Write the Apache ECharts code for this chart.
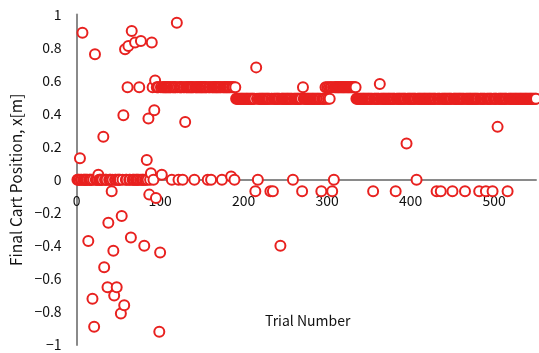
<!DOCTYPE html>
<html>
<head>
<meta charset="utf-8">
<script src="https://cdn.jsdelivr.net/npm/echarts@6/dist/echarts.min.js"></script>
<style>
  html, body { margin: 0; padding: 0; background: #ffffff; }
  #chart { width: 539px; height: 353px; }
</style>
</head>
<body>
<div id="chart"></div>
<script>
// Final cart position x[m] recorded at the end of each trial (trial numbers start at 1).
const positionsTrials001to100 = [
  0, 0, 0, 0.13, 0, 0, 0.89, 0, 0, 0,
  0, 0, 0, -0.37, 0, 0, 0, 0, -0.72, 0,
  -0.89, 0.76, 0, 0, 0, 0.03, 0, 0, 0, 0,
  0, 0.26, -0.53, 0, 0, 0, -0.65, -0.26, 0, 0,
  0, -0.07, 0, -0.43, -0.70, 0, 0, -0.65, 0, 0,
  0, 0, -0.81, -0.22, 0, 0.39, -0.76, 0.79, 0, 0,
  0.56, 0.81, 0, 0, -0.35, 0.90, 0, 0, 0, 0.83,
  0, 0, 0, 0, 0.56, 0, 0.84, 0, 0, 0,
  -0.40, 0, 0, 0.12, 0, 0.37, -0.09, 0, 0.04, 0.83,
  0.56, 0, 0.42, 0.60, -0.11, 0.56, 0.56, 0.56, -0.92, -0.44
];
const positionsTrials101to200 = [
  0.56, 0.03, 0.56, 0.56, 0.56, 0.56, 0.56, 0.56, 0.56, 0.56,
  0.56, 0.56, 0.56, 0, 0.56, 0.56, 0.56, 0.56, 0.56, 0.95,
  0.56, 0, 0.56, 0.56, 0.56, 0.56, 0, 0.56, 0.56, 0.35,
  0.56, 0.56, 0.56, 0.56, 0.56, 0.56, 0.56, 0.56, 0.56, 0.56,
  0, 0.56, 0.56, 0.56, 0.56, 0.56, 0.56, 0.56, 0.56, 0.56,
  0.56, 0.56, 0.56, 0.56, 0.56, 0.56, 0, 0.56, 0.56, 0.56,
  0, 0.56, 0.56, 0.56, 0.56, 0.56, 0.56, 0.56, 0.56, 0.56,
  0.56, 0.56, 0.56, 0, 0.56, 0.56, 0.56, 0.56, 0.56, 0.56,
  0.56, 0.56, 0.56, 0.56, 0.02, 0.56, 0.56, 0.56, 0, 0.56,
  0.49, 0.49, 0.49, 0.49, 0.49, 0.49, 0.49, 0.49, 0.49, 0.49
];
const positionsTrials201to300 = [
  0.49, 0.49, 0.49, 0.49, 0.49, 0.49, 0.49, 0.49, 0.49, 0.49,
  0.49, 0.49, 0.49, -0.07, 0.68, 0.49, 0, 0.49, 0.49, 0.49,
  0.49, 0.49, 0.49, 0.49, 0.49, 0.49, 0.49, 0.49, 0.49, 0.49,
  0.49, -0.07, 0.49, 0.49, -0.07, 0.49, 0.49, 0.49, 0.49, 0.49,
  0.49, 0.49, 0.49, -0.40, 0.49, 0.49, 0.49, 0.49, 0.49, 0.49,
  0.49, 0.49, 0.49, 0.49, 0.49, 0.49, 0.49, 0.49, 0, 0.49,
  0.49, 0.49, 0.49, 0.49, 0.49, 0.49, 0.49, 0.49, 0.49, -0.07,
  0.56, 0.49, 0.49, 0.49, 0.49, 0.49, 0.49, 0.49, 0.49, 0.49,
  0.49, 0.49, 0.49, 0.49, 0.49, 0.49, 0.49, 0.49, 0.49, 0.49,
  0.49, 0.49, -0.07, 0.49, 0.49, 0.49, 0.49, 0.56, 0.49, 0.56
];
const positionsTrials301to400 = [
  0.49, 0.56, 0.49, 0.56, 0.56, -0.07, 0.56, 0, 0.56, 0.56,
  0.56, 0.56, 0.56, 0.56, 0.56, 0.56, 0.56, 0.56, 0.56, 0.56,
  0.56, 0.56, 0.56, 0.56, 0.56, 0.56, 0.56, 0.56, 0.56, 0.56,
  0.56, 0.56, 0.56, 0.56, 0.49, 0.49, 0.49, 0.49, 0.49, 0.49,
  0.49, 0.49, 0.49, 0.49, 0.49, 0.49, 0.49, 0.49, 0.49, 0.49,
  0.49, 0.49, 0.49, 0.49, -0.07, 0.49, 0.49, 0.49, 0.49, 0.49,
  0.49, 0.49, 0.58, 0.49, 0.49, 0.49, 0.49, 0.49, 0.49, 0.49,
  0.49, 0.49, 0.49, 0.49, 0.49, 0.49, 0.49, 0.49, 0.49, 0.49,
  0.49, -0.07, 0.49, 0.49, 0.49, 0.49, 0.49, 0.49, 0.49, 0.49,
  0.49, 0.49, 0.49, 0.49, 0.22, 0.49, 0.49, 0.49, 0.49, 0.49
];
const positionsTrials401to500 = [
  0.49, 0.49, 0.49, 0.49, 0.49, 0.49, 0, 0.49, 0.49, 0.49,
  0.49, 0.49, 0.49, 0.49, 0.49, 0.49, 0.49, 0.49, 0.49, 0.49,
  0.49, 0.49, 0.49, 0.49, 0.49, 0.49, 0.49, 0.49, 0.49, 0.49,
  -0.07, 0.49, 0.49, 0.49, 0.49, -0.07, 0.49, 0.49, 0.49, 0.49,
  0.49, 0.49, 0.49, 0.49, 0.49, 0.49, 0.49, 0.49, 0.49, -0.07,
  0.49, 0.49, 0.49, 0.49, 0.49, 0.49, 0.49, 0.49, 0.49, 0.49,
  0.49, 0.49, 0.49, 0.49, -0.07, 0.49, 0.49, 0.49, 0.49, 0.49,
  0.49, 0.49, 0.49, 0.49, 0.49, 0.49, 0.49, 0.49, 0.49, 0.49,
  0.49, -0.07, 0.49, 0.49, 0.49, 0.49, 0.49, 0.49, 0.49, -0.07,
  0.49, 0.49, 0.49, 0.49, 0.49, 0.49, 0.49, -0.07, 0.49, 0.49
];
const positionsTrials501to550 = [
  0.49, 0.49, 0.49, 0.32, 0.49, 0.49, 0.49, 0.49, 0.49, 0.49,
  0.49, 0.49, 0.49, 0.49, 0.49, -0.07, 0.49, 0.49, 0.49, 0.49,
  0.49, 0.49, 0.49, 0.49, 0.49, 0.49, 0.49, 0.49, 0.49, 0.49,
  0.49, 0.49, 0.49, 0.49, 0.49, 0.49, 0.49, 0.49, 0.49, 0.49,
  0.49, 0.49, 0.49, 0.49, 0.49, 0.49, 0.49, 0.49, 0.49, 0.49
];

// Axis ranges and tick spacing
const trialAxis = { min: 0, max: 550, step: 100 };
const positionAxis = { min: -1, max: 1, step: 0.2 };
const xAxisTitle = 'Trial Number';
const yAxisTitle = 'Final Cart Position, x[m]';

const finalPositions = [].concat(
  positionsTrials001to100, positionsTrials101to200, positionsTrials201to300,
  positionsTrials301to400, positionsTrials401to500, positionsTrials501to550
);
const points = finalPositions.map((v, i) => [i + 1, v]);

const FONT = '"Noto Sans CJK JP", "Noto Sans", sans-serif';
const TEXT = '#111111';
const AXIS_GREY = '#8a8a8a';
const RED = '#e8211f';
const withMinus = v => String(Math.round(v * 10) / 10).replace('-', '\u2212');

// Plot box
const GRID = { left: 71, right: 3, top: 14.5, bottom: 8 };
const CHART_H = 353;
const plotH = CHART_H - GRID.top - GRID.bottom;
// Shift the horizontal axis (line + labels) up from the plot bottom to where y = 0.
const zeroShift = -plotH * (0 - positionAxis.min) / (positionAxis.max - positionAxis.min);

const chart = echarts.init(document.getElementById('chart'), null, { renderer: 'canvas' });
chart.setOption({
  animation: false,
  backgroundColor: '#ffffff',
  grid: Object.assign({ containLabel: false }, GRID),
  // The horizontal axis crosses at x = 0, so its title sits in the lower half of the plot.
  graphic: [{
    type: 'text',
    left: 265, top: 314,
    style: { text: xAxisTitle, font: '14px ' + FONT, fill: TEXT }
  }],
  xAxis: {
    type: 'value',
    position: 'bottom',
    offset: zeroShift,
    min: trialAxis.min, max: trialAxis.max, interval: trialAxis.step,
    axisLine: { onZero: false, lineStyle: { color: AXIS_GREY, width: 2 } },
    axisTick: { show: false },
    splitLine: { show: false },
    axisLabel: {
      showMaxLabel: false, margin: 14,
      fontFamily: FONT, fontSize: 14, color: TEXT,
      formatter: v => withMinus(v)
    }
  },
  yAxis: {
    type: 'value',
    min: positionAxis.min, max: positionAxis.max, interval: positionAxis.step,
    name: yAxisTitle, nameLocation: 'middle', nameGap: 44, nameRotate: 90,
    nameTextStyle: { fontFamily: FONT, fontSize: 15.5, color: TEXT },
    axisLine: { show: true, onZero: false, lineStyle: { color: AXIS_GREY, width: 2 } },
    axisTick: { show: false },
    splitLine: { show: false },
    axisLabel: {
      margin: 15,
      fontFamily: FONT, fontSize: 14, color: TEXT,
      formatter: v => withMinus(v)
    }
  },
  series: [{
    type: 'scatter',
    data: points,
    symbol: 'circle',
    symbolSize: 10,
    clip: false,
    itemStyle: { color: '#ffffff', borderColor: RED, borderWidth: 2, opacity: 1 },
    emphasis: { disabled: true }
  }]
});
</script>
</body>
</html>
